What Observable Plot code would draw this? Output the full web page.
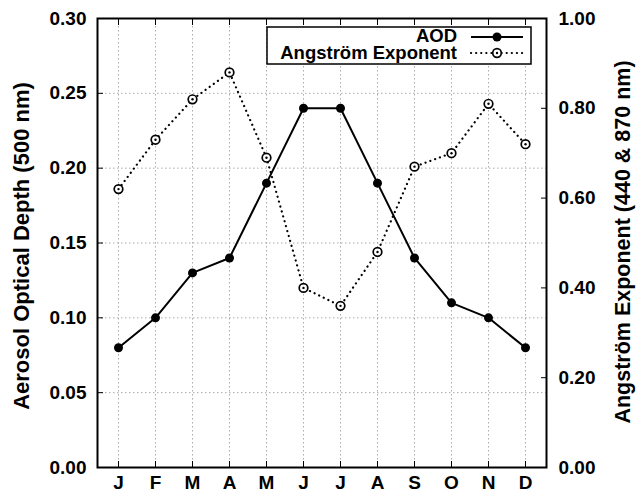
<!DOCTYPE html>
<html>
<head>
<meta charset="utf-8">
<script src="https://cdn.jsdelivr.net/npm/d3@7"></script>
<script src="https://cdn.jsdelivr.net/npm/@observablehq/plot@0.6"></script>
<style>
  html, body { margin: 0; padding: 0; background: #fff; }
  #chart { width: 636px; height: 494px; }
</style>
</head>
<body>
<div id="chart"></div>
<script>
const months = ["J","F","M","A","M","J","J","A","S","O","N","D"];
const aod = [0.08, 0.10, 0.13, 0.14, 0.19, 0.24, 0.24, 0.19, 0.14, 0.11, 0.10, 0.08];
const angstrom = [0.62, 0.73, 0.82, 0.88, 0.69, 0.40, 0.36, 0.48, 0.67, 0.70, 0.81, 0.72];
const aodTicks = [0.00, 0.05, 0.10, 0.15, 0.20, 0.25, 0.30];
const aeTicks = [0.00, 0.20, 0.40, 0.60, 0.80, 1.00];
const leftTitle = "Aerosol Optical Depth (500 nm)";
const rightTitle = "Angström Exponent (440 & 870 nm)";
const legendLabels = ["AOD", "Angström Exponent"];

const aodMax = 0.30, aeMax = 1.00;
const toLeft = v => v * aodMax / aeMax;
const idx = d3.range(months.length);
const data = idx.map(i => ({i, aod: aod[i], ae: toLeft(angstrom[i])}));
const font = "'Liberation Sans', Arial, Helvetica, sans-serif";

const plot = Plot.plot({
  width: 636,
  height: 494,
  marginLeft: 97,
  marginRight: 90,
  marginTop: 18,
  marginBottom: 27,
  style: {fontFamily: font, fontWeight: "bold", fontSize: "19px", color: "#000", background: "#fff"},
  x: {type: "point", domain: idx, padding: 0.5, label: null},
  y: {domain: [0, aodMax], label: null},
  marks: [
    Plot.ruleX(idx, {stroke: "#aaa", strokeWidth: 1, strokeDasharray: "1.5,2.5"}),
    Plot.ruleY(aodTicks.slice(1, -1), {stroke: "#aaa", strokeWidth: 1, strokeDasharray: "1.5,2.5"}),
    Plot.line(data, {x: "i", y: "aod", stroke: "#000", strokeWidth: 2}),
    Plot.line(data, {x: "i", y: "ae", stroke: "#000", strokeWidth: 2.2, strokeDasharray: "0.1,5", strokeLinecap: "round"}),
    Plot.dot(data, {x: "i", y: "aod", r: 4.5, fill: "#000", stroke: "none"}),
    Plot.dot(data, {x: "i", y: "ae", r: 4.3, fill: "#fff", stroke: "#000", strokeWidth: 1.7}),
    Plot.dot(data, {x: "i", y: "ae", r: 1.2, fill: "#000", stroke: "none"}),
    Plot.axisX({anchor: "bottom", ticks: idx, tickFormat: i => months[i], tickSize: -6, tickPadding: 14, fontSize: 19, fontWeight: "bold", label: null}),
    Plot.axisX({anchor: "top", ticks: idx, tickFormat: () => "", tickSize: -6, label: null}),
    Plot.axisY({anchor: "left", ticks: aodTicks, tickFormat: d3.format(".2f"), tickSize: -6, tickPadding: 17, fontSize: 19, fontWeight: "bold", label: null}),
    Plot.axisY({anchor: "right", ticks: aeTicks.map(toLeft), tickFormat: d => d3.format(".2f")(d * aeMax / aodMax), tickSize: -6, tickPadding: 18, fontSize: 19, fontWeight: "bold", label: null}),
    Plot.frame({stroke: "#000", strokeWidth: 2})
  ]
});

document.getElementById("chart").appendChild(plot);

const svg = d3.select(plot);
// axis titles
svg.append("text")
  .attr("transform", "translate(29,246) rotate(-90)")
  .attr("text-anchor", "middle")
  .attr("font-family", font).attr("font-weight", "bold").attr("font-size", 22)
  .text(leftTitle);
svg.append("text")
  .attr("transform", "translate(630,242) rotate(-90)")
  .attr("text-anchor", "middle")
  .attr("font-family", font).attr("font-weight", "bold").attr("font-size", 21.5)
  .text(rightTitle);

// legend
const lg = svg.append("g");
lg.append("rect").attr("x", 267).attr("y", 27).attr("width", 264).attr("height", 37)
  .attr("fill", "#fff").attr("stroke", "#000").attr("stroke-width", 1.5);
const rows = [42, 59];
legendLabels.forEach((t, k) => {
  lg.append("text").attr("x", 457).attr("y", rows[k])
    .attr("text-anchor", "end").attr("font-family", font).attr("font-weight", "bold").attr("font-size", 18.5)
    .text(t);
});
lg.append("line").attr("x1", 471).attr("x2", 523).attr("y1", 37).attr("y2", 37)
  .attr("stroke", "#000").attr("stroke-width", 2);
lg.append("circle").attr("cx", 497).attr("cy", 37).attr("r", 4.5).attr("fill", "#000");
lg.append("line").attr("x1", 471).attr("x2", 523).attr("y1", 53).attr("y2", 53)
  .attr("stroke", "#000").attr("stroke-width", 2.2).attr("stroke-dasharray", "0.1,5").attr("stroke-linecap", "round");
lg.append("circle").attr("cx", 497).attr("cy", 53).attr("r", 4.3).attr("fill", "#fff").attr("stroke", "#000").attr("stroke-width", 1.7);
lg.append("circle").attr("cx", 497).attr("cy", 53).attr("r", 1.2).attr("fill", "#000");
</script>
</body>
</html>
